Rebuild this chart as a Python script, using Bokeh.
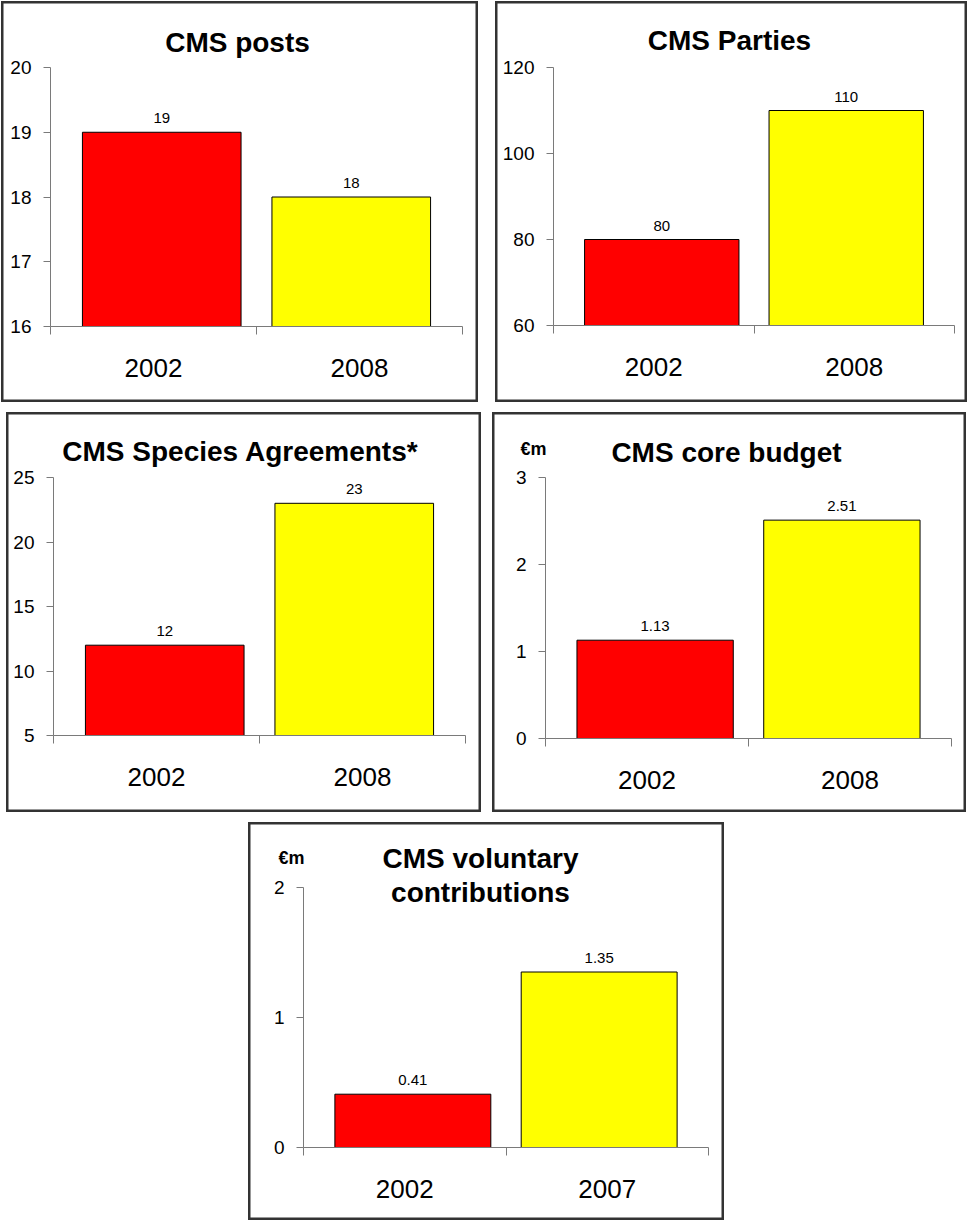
from bokeh.plotting import figure
from bokeh.models import Range1d, LinearAxis, FixedTicker, Label, Spacer, ColumnDataSource
from bokeh.layouts import row, column
from bokeh.embed import file_html
from bokeh.resources import INLINE
from bokeh.core.properties import value

# ---------------- data ----------------
posts_years = ["2002", "2008"]
posts_vals = [19, 18]
posts_yticks = [16, 17, 18, 19, 20]

parties_years = ["2002", "2008"]
parties_vals = [80, 110]
parties_yticks = [60, 80, 100, 120]

agreements_years = ["2002", "2008"]
agreements_vals = [12, 23]
agreements_yticks = [5, 10, 15, 20, 25]

budget_years = ["2002", "2008"]
budget_vals = [1.13, 2.51]
budget_yticks = [0, 1, 2, 3]

voluntary_years = ["2002", "2007"]
voluntary_vals = [0.41, 1.35]
voluntary_yticks = [0, 1, 2]

titles = ["CMS posts", "CMS Parties", "CMS Species Agreements*",
          "CMS core budget", "CMS voluntary\ncontributions"]
units = [None, None, None, "\u20acm", "\u20acm"]
bar_colors = ["#FF0000", "#FFFF00"]

FONT = "Liberation Sans"
AXIS_COLOR = "#7a7a7a"
BORDER_COLOR = "#333333"

# layout: (box L,T,R,B), (frame L,T,R,B), title centre, unit centre -- page pixels
panels = [
    (titles[0], units[0], posts_years, posts_vals, posts_yticks,
     (1, 1, 477, 401), (50, 67, 462, 326), (237, 42), None),
    (titles[1], units[1], parties_years, parties_vals, parties_yticks,
     (495, 1, 966, 401), (553, 67, 954, 325), (729, 40), None),
    (titles[2], units[2], agreements_years, agreements_vals, agreements_yticks,
     (6, 412, 480, 811), (53, 477, 465, 735), (240, 451), None),
    (titles[3], units[3], budget_years, budget_vals, budget_yticks,
     (492, 412, 965, 811), (545, 477, 951, 738), (726, 452), (533, 448)),
    (titles[4], units[4], voluntary_years, voluntary_vals, voluntary_yticks,
     (248, 822, 723, 1219), (303, 887, 708, 1147), (480, 875), (291, 857)),
]

BAR_WIDTH = 0.77
BAR_SHIFT = 0.04


def make_panel(title, unit, years, vals, yticks, box, frame, tpos, upos):
    L, T, R, B = box
    fl, ft, fr, fb = frame
    W = R - L + 1
    H = B - T + 1
    n = len(years)
    ymin, ymax = yticks[0], yticks[-1]
    ux = (fr - fl) / n
    uy = (fb - ft) / (ymax - ymin)
    x_range = Range1d(-(fl - L) / ux, n + (R + 1 - fr) / ux)
    y_range = Range1d(ymin - (B + 1 - fb) / uy, ymax + (ft - T) / uy)

    p = figure(width=W, height=H, output_backend="svg", toolbar_location=None,
               title=None, x_axis_type=None, y_axis_type=None,
               x_range=x_range, y_range=y_range, min_border=0)
    p.outline_line_color = BORDER_COLOR
    p.outline_line_width = 4
    p.background_fill_color = "white"
    p.border_fill_color = "white"

    # y axis
    ya = LinearAxis(ticker=FixedTicker(ticks=yticks, minor_ticks=[]),
                    fixed_location=0, bounds=(ymin, ymax))
    ya.axis_line_color = AXIS_COLOR
    ya.major_tick_line_color = AXIS_COLOR
    ya.major_tick_out = 7
    ya.major_tick_in = 0
    ya.minor_tick_line_color = None
    ya.major_label_standoff = 12
    ya.major_label_text_font = FONT
    ya.major_label_text_font_size = "19px"
    ya.major_label_text_color = "black"
    p.add_layout(ya, "left")

    # x axis: labels at category centres, ticks at category boundaries
    centres = [i + 0.5 for i in range(n)]
    overrides = {}
    for c, yr in zip(centres, years):
        overrides[c] = yr
        overrides[str(c)] = yr
    xa = LinearAxis(ticker=FixedTicker(ticks=centres, minor_ticks=list(range(n + 1))),
                    major_label_overrides=overrides,
                    fixed_location=ymin, bounds=(0, n))
    xa.axis_line_color = AXIS_COLOR
    xa.major_tick_line_color = None
    xa.major_tick_out = 8
    xa.major_tick_in = 0
    xa.minor_tick_line_color = AXIS_COLOR
    xa.minor_tick_out = 8
    xa.minor_tick_in = 0
    xa.major_label_standoff = 24
    xa.major_label_text_font = FONT
    xa.major_label_text_font_size = "26px"
    xa.major_label_text_color = "black"
    p.add_layout(xa, "below")

    # bars
    xs = [c + (BAR_SHIFT if c < n / 2 else -BAR_SHIFT) for c in centres]
    src = ColumnDataSource(dict(x=xs, top=vals, color=bar_colors[:n],
                                label=[f"{v:g}" for v in vals]))
    p.vbar(x="x", top="top", bottom=ymin, width=BAR_WIDTH, fill_color="color",
           line_color="black", line_width=1, source=src)
    p.text(x="x", y="top", text="label", source=src, text_align="center",
           text_baseline="bottom", y_offset=-9, text_font=value(FONT),
           text_font_size="15px", text_color="black")

    # title
    fcx = (fl + fr) / 2
    p.add_layout(Label(x=n / 2, y=ymax, x_offset=tpos[0] - fcx, y_offset=ft - tpos[1],
                       text=title, text_align="center", text_baseline="middle",
                       text_font=FONT, text_font_size="28px", text_font_style="bold",
                       text_line_height=1.1, text_color="black"))
    if unit is not None:
        p.add_layout(Label(x=0, y=ymax, x_offset=upos[0] - fl, y_offset=ft - upos[1],
                           text=unit, text_align="center", text_baseline="middle",
                           text_font=FONT, text_font_size="18px", text_font_style="bold",
                           text_color="black"))
    return p


figs = [make_panel(*spec) for spec in panels]
b = [spec[5] for spec in panels]

row1 = row(Spacer(width=b[0][0], height=1), figs[0],
           Spacer(width=b[1][0] - (b[0][2] + 1), height=1), figs[1])
row2 = row(Spacer(width=b[2][0], height=1), figs[2],
           Spacer(width=b[3][0] - (b[2][2] + 1), height=1), figs[3])
row3 = row(Spacer(width=b[4][0], height=1), figs[4])
root = column(Spacer(height=b[0][1], width=1), row1,
              Spacer(height=b[2][1] - (b[0][3] + 1), width=1), row2,
              Spacer(height=b[4][1] - (b[2][3] + 1), width=1), row3)

open("out.html", "w").write(file_html(root, INLINE))
